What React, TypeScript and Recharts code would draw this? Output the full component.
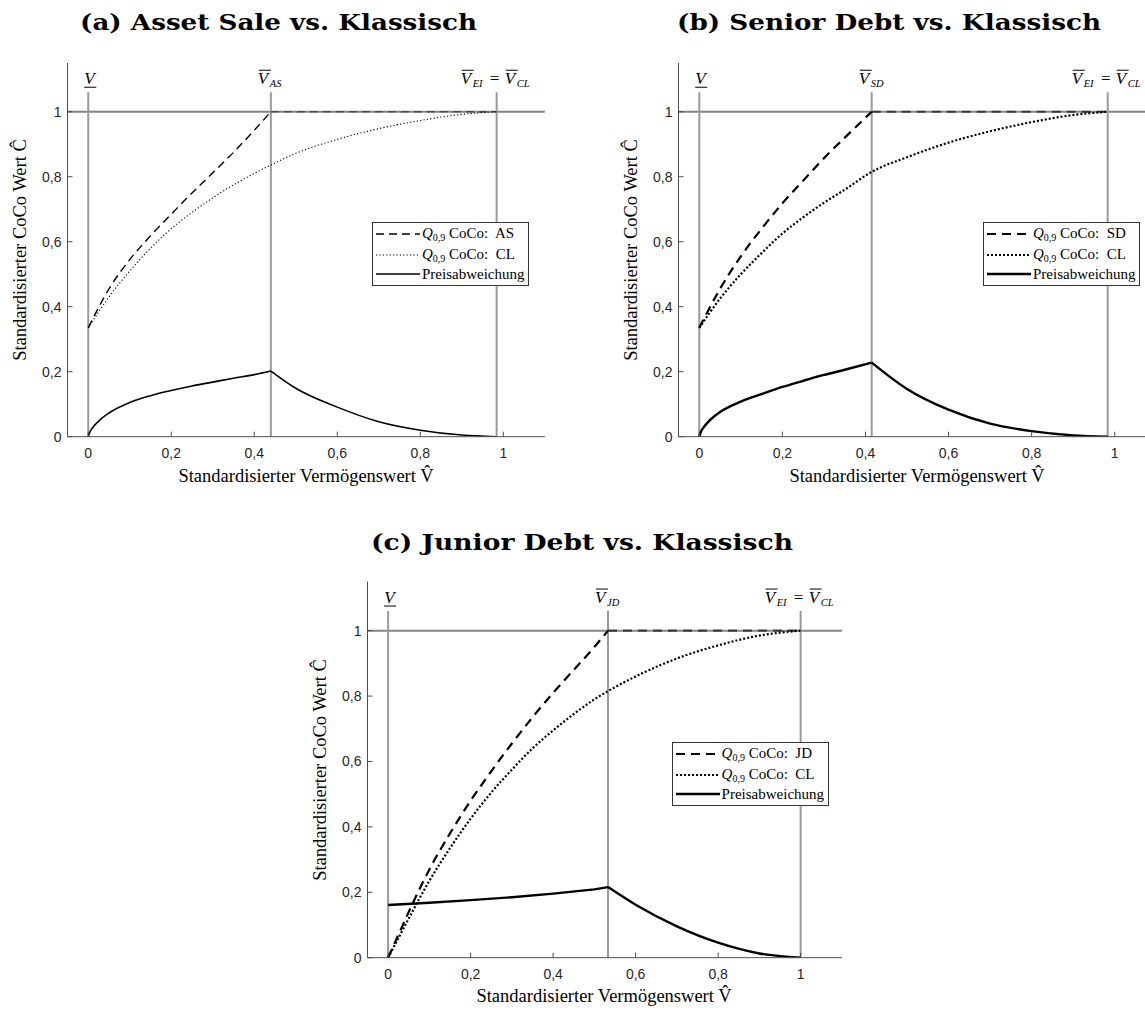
import React from "react";
import { LineChart, Line, XAxis, YAxis, ReferenceLine, Legend } from "recharts";

const SERIF = '"Liberation Serif", "Times New Roman", serif';
const TITLE_FONT = '"DejaVu Serif", serif';
const SANS = '"Liberation Sans", Arial, sans-serif';

const X_TICKS = [0, 0.2, 0.4, 0.6, 0.8, 1];
const Y_TICKS = [0, 0.2, 0.4, 0.6, 0.8, 1];
const X_DOMAIN: [number, number] = [-0.05, 1.1];
const Y_DOMAIN: [number, number] = [0, 1.15];

// (a) Asset Sale vs. classic
const aMarks = [0, 0.44, 0.984];
const aAsRiseX = [0, 0.05, 0.1, 0.15, 0.2, 0.25, 0.3, 0.35, 0.4, 0.44];
const aAsRiseY = [0.335, 0.455, 0.545, 0.618, 0.685, 0.75, 0.812, 0.875, 0.943, 1];
const aAsFlatX = [0.44, 0.984];
const aAsFlatY = [1, 1];
const aClX = [0, 0.05, 0.1, 0.15, 0.2, 0.25, 0.3, 0.35, 0.4, 0.44, 0.5, 0.6, 0.7, 0.8, 0.9, 0.984];
const aClY = [0.335, 0.43, 0.51, 0.58, 0.64, 0.69, 0.735, 0.775, 0.81, 0.836, 0.872, 0.915, 0.948, 0.973, 0.992, 1];
const aDiffLeftX = [0, 0.005, 0.01, 0.025, 0.05, 0.1, 0.15, 0.2, 0.25, 0.3, 0.35, 0.4, 0.44];
const aDiffLeftY = [0, 0.017, 0.027, 0.048, 0.073, 0.105, 0.126, 0.142, 0.156, 0.168, 0.18, 0.191, 0.202];
const aDiffRightX = [0.44, 0.5, 0.6, 0.7, 0.8, 0.9, 0.984];
const aDiffRightY = [0.202, 0.149, 0.091, 0.046, 0.02, 0.005, 0];

// (b) Senior Debt vs. classic
const bMarks = [0, 0.415, 0.983];
const bSdRiseX = [0, 0.05, 0.1, 0.15, 0.2, 0.25, 0.3, 0.35, 0.415];
const bSdRiseY = [0.335, 0.455, 0.555, 0.64, 0.718, 0.788, 0.857, 0.92, 1];
const bSdFlatX = [0.415, 0.983];
const bSdFlatY = [1, 1];
const bClX = [0, 0.05, 0.1, 0.15, 0.2, 0.25, 0.3, 0.35, 0.415, 0.5, 0.6, 0.7, 0.8, 0.9, 0.983];
const bClY = [0.335, 0.425, 0.5, 0.565, 0.625, 0.675, 0.72, 0.76, 0.815, 0.86, 0.905, 0.94, 0.968, 0.99, 1];
const bDiffLeftX = [0, 0.005, 0.01, 0.025, 0.05, 0.1, 0.15, 0.2, 0.25, 0.3, 0.35, 0.415];
const bDiffLeftY = [0, 0.018, 0.028, 0.05, 0.076, 0.108, 0.131, 0.153, 0.172, 0.19, 0.206, 0.228];
const bDiffRightX = [0.415, 0.5, 0.6, 0.7, 0.8, 0.9, 0.983];
const bDiffRightY = [0.228, 0.147, 0.083, 0.04, 0.017, 0.004, 0];

// (c) Junior Debt vs. classic
const cMarks = [0, 0.533, 1];
const cJdRiseX = [0, 0.025, 0.05, 0.1, 0.15, 0.2, 0.25, 0.3, 0.35, 0.4, 0.45, 0.5, 0.533];
const cJdRiseY = [0, 0.07, 0.14, 0.27, 0.38, 0.48, 0.57, 0.655, 0.735, 0.81, 0.88, 0.95, 1];
const cJdFlatX = [0.533, 1];
const cJdFlatY = [1, 1];
const cClX = [0, 0.025, 0.05, 0.1, 0.15, 0.2, 0.25, 0.3, 0.35, 0.4, 0.45, 0.5, 0.533, 0.6, 0.7, 0.8, 0.9, 1];
const cClY = [0, 0.06, 0.12, 0.235, 0.335, 0.425, 0.505, 0.575, 0.64, 0.695, 0.745, 0.79, 0.815, 0.86, 0.915, 0.955, 0.985, 1];
const cDiffLeftX = [0, 0.1, 0.2, 0.3, 0.4, 0.5, 0.533];
const cDiffLeftY = [0.161, 0.168, 0.176, 0.185, 0.196, 0.209, 0.216];
const cDiffRightX = [0.533, 0.6, 0.7, 0.8, 0.9, 1];
const cDiffRightY = [0.216, 0.162, 0.096, 0.046, 0.013, 0];

type Pt = { x: number; y: number };
const pts = (xs: number[], ys: number[]): Pt[] => xs.map((x, i) => ({ x, y: ys[i] }));

const fmt = (v: number) => String(v).replace(".", ",");

const AXIS = "#4d4d4d";
const GRAY_V = "#9a9a9a";
const GRAY_H = "#858585";

type Style = { width: number; dash?: string };
type Styles = { dashed: Style; dotted: Style; solid: Style; flatOpacity: number };

const THIN: Styles = {
  dashed: { width: 1.4, dash: "8 5" },
  dotted: { width: 1.1, dash: "1.2 2.2" },
  solid: { width: 1.6 },
  flatOpacity: 0.45,
};
const BOLD: Styles = {
  dashed: { width: 2.2, dash: "9 6" },
  dotted: { width: 2.2, dash: "2 2" },
  solid: { width: 2.4 },
  flatOpacity: 0.6,
};

function XTick(props: any) {
  const { x, y, payload } = props;
  return (
    <g>
      <line x1={x} x2={x} y1={y} y2={y - 5} stroke={AXIS} strokeWidth={1} />
      <text x={x} y={y + 21.5} textAnchor="middle" fontFamily={SANS} fontSize={14} fill="#262626">
        {fmt(payload.value)}
      </text>
    </g>
  );
}

function YTick(props: any) {
  const { x, y, payload } = props;
  return (
    <g>
      <line x1={x} x2={x + 5} y1={y} y2={y} stroke={AXIS} strokeWidth={1} />
      <text x={x - 6} y={y + 5} textAnchor="end" fontFamily={SANS} fontSize={14} fill="#262626">
        {fmt(payload.value)}
      </text>
    </g>
  );
}

// italic V with a bar above (or below) and an optional subscript
function VSym({ x, y, sub, under }: { x: number; y: number; sub?: string; under?: boolean }) {
  return (
    <g>
      <text x={x} y={y} fontFamily={SERIF} fontStyle="italic" fontSize={17} fill="#000">
        V
      </text>
      {under ? (
        <line x1={x} x2={x + 12} y1={y + 3} y2={y + 3} stroke="#000" strokeWidth={1} />
      ) : (
        <line x1={x + 1} x2={x + 13} y1={y - 14} y2={y - 14} stroke="#000" strokeWidth={1} />
      )}
      {sub && (
        <text x={x + 12} y={y + 3} fontFamily={SERIF} fontStyle="italic" fontSize={10.5} fill="#000">
          {sub}
        </text>
      )}
    </g>
  );
}

function topLabel(kind: string, sub?: string) {
  return (props: any) => {
    const vb = props.viewBox || {};
    const x = vb.x ?? 0;
    const y = (vb.y ?? 0) - 8;
    if (kind === "low") return <VSym x={x - 4} y={y} under />;
    if (kind === "mid") return <VSym x={x - 13} y={y} sub={sub} />;
    return (
      <g>
        <VSym x={x - 36} y={y} sub="EI" />
        <text x={x - 2} y={y} textAnchor="middle" fontFamily={SERIF} fontSize={17} fill="#000">
          =
        </text>
        <VSym x={x + 8} y={y} sub="CL" />
      </g>
    );
  };
}

function LegendBox({ items, styles }: { items: string[]; styles: Styles }) {
  const st = [styles.dashed, styles.dotted, styles.solid];
  return (
    <div
      style={{
        border: "1px solid #333",
        background: "#fff",
        padding: "1px 4px 1px 3px",
        fontFamily: SERIF,
        fontSize: 15,
        lineHeight: "18.5px",
        color: "#000",
      }}
    >
      {items.map((label, i) => (
        <div key={label} style={{ display: "flex", alignItems: "center", whiteSpace: "nowrap" }}>
          <svg width={44} height={10} style={{ display: "block" }}>
            <line x1={0} x2={44} y1={5} y2={5} stroke="#000" strokeWidth={st[i].width} strokeDasharray={st[i].dash} />
          </svg>
          <span style={{ marginLeft: 2 }}>
            {i < 2 ? (
              <>
                <i>Q</i>
                <span style={{ fontSize: 10, position: "relative", top: 3 }}>0,9</span>
                {" CoCo:\u00a0 " + label}
              </>
            ) : (
              label
            )}
          </span>
        </div>
      ))}
    </div>
  );
}

type PanelProps = {
  left: number;
  top: number;
  width: number;
  height: number;
  margin: { top: number; right: number; bottom: number; left: number };
  marks: number[];
  midSub: string;
  rise: Pt[];
  flat: Pt[];
  cl: Pt[];
  diffLeft: Pt[];
  diffRight: Pt[];
  name: string;
  styles: Styles;
  leftType?: "monotone" | "linear";
};

// axis boxes: y axis is 60 wide, x axis is 30 high
function Panel(p: PanelProps) {
  const s = p.styles;
  return (
    <div style={{ position: "absolute", left: p.left, top: p.top }}>
      <LineChart width={p.width} height={p.height} margin={p.margin}>
        <XAxis
          type="number"
          dataKey="x"
          domain={X_DOMAIN}
          ticks={X_TICKS}
          allowDataOverflow
          height={30}
          tickSize={0}
          tickMargin={0}
          tickLine={false}
          axisLine={{ stroke: AXIS, strokeWidth: 1 }}
          tick={(t: any) => <XTick {...t} />}
        />
        <YAxis
          type="number"
          dataKey="y"
          domain={Y_DOMAIN}
          ticks={Y_TICKS}
          allowDataOverflow
          width={60}
          tickSize={0}
          tickMargin={0}
          tickLine={false}
          axisLine={{ stroke: AXIS, strokeWidth: 1 }}
          tick={(t: any) => <YTick {...t} />}
        />
        <ReferenceLine y={1} stroke={GRAY_H} strokeWidth={2} />
        {p.marks.map((m, i) => (
          <ReferenceLine
            key={m}
            segment={[
              { x: m, y: 0 },
              { x: m, y: 1.06 },
            ]}
            stroke={GRAY_V}
            strokeWidth={2}
            label={topLabel(i === 0 ? "low" : i === 1 ? "mid" : "top", p.midSub)}
          />
        ))}
        <Line data={p.flat} dataKey="y" type="linear" stroke="#000" strokeWidth={s.dashed.width} strokeDasharray={s.dashed.dash} strokeOpacity={s.flatOpacity} dot={false} isAnimationActive={false} />
        <Line data={p.rise} dataKey="y" type="monotone" stroke="#000" strokeWidth={s.dashed.width} strokeDasharray={s.dashed.dash} dot={false} isAnimationActive={false} />
        <Line data={p.cl} dataKey="y" type="monotone" stroke="#000" strokeWidth={s.dotted.width} strokeDasharray={s.dotted.dash} dot={false} isAnimationActive={false} />
        <Line data={p.diffLeft} dataKey="y" type={p.leftType ?? "monotone"} stroke="#000" strokeWidth={s.solid.width} dot={false} isAnimationActive={false} />
        <Line data={p.diffRight} dataKey="y" type="monotone" stroke="#000" strokeWidth={s.solid.width} dot={false} isAnimationActive={false} />
        <Legend
          layout="vertical"
          align="center"
          verticalAlign="middle"
          wrapperStyle={{ left: 372, top: 222, width: "auto", height: "auto" }}
          content={() => <LegendBox items={[p.name, "CL", "Preisabweichung"]} styles={s} />}
        />
      </LineChart>
    </div>
  );
}

const TEXT = "#000";

export default function App() {
  const yLabel = "Standardisierter CoCo Wert \u0108";
  const xLabel = "Standardisierter Vermögenswert V\u0302";
  return (
    <div
      style={{
        position: "absolute",
        left: 0,
        top: 0,
        width: 1145,
        height: 1010,
        overflow: "hidden",
        background: "#fff",
      }}
    >
      <Panel
        left={0}
        top={0}
        width={560}
        height={490}
        margin={{ top: 63, right: 15.2, bottom: 23.3, left: 7.5 }}
        marks={aMarks}
        midSub="AS"
        rise={pts(aAsRiseX, aAsRiseY)}
        flat={pts(aAsFlatX, aAsFlatY)}
        cl={pts(aClX, aClY)}
        diffLeft={pts(aDiffLeftX, aDiffLeftY)}
        diffRight={pts(aDiffRightX, aDiffRightY)}
        name="AS"
        styles={THIN}
      />
      <Panel
        left={611}
        top={0}
        width={560}
        height={490}
        margin={{ top: 63, right: 14.7, bottom: 23.3, left: 7.5 }}
        marks={bMarks}
        midSub="SD"
        rise={pts(bSdRiseX, bSdRiseY)}
        flat={pts(bSdFlatX, bSdFlatY)}
        cl={pts(bClX, bClY)}
        diffLeft={pts(bDiffLeftX, bDiffLeftY)}
        diffRight={pts(bDiffRightX, bDiffRightY)}
        name="SD"
        styles={BOLD}
      />
      <Panel
        left={299.6}
        top={520}
        width={560}
        height={470}
        margin={{ top: 61.6, right: 18.1, bottom: 2.3, left: 7.5 }}
        marks={cMarks}
        midSub="JD"
        rise={pts(cJdRiseX, cJdRiseY)}
        flat={pts(cJdFlatX, cJdFlatY)}
        cl={pts(cClX, cClY)}
        diffLeft={pts(cDiffLeftX, cDiffLeftY)}
        diffRight={pts(cDiffRightX, cDiffRightY)}
        name="JD"
        styles={BOLD}
        leftType="linear"
      />
      <svg width={1145} height={1010} style={{ position: "absolute", left: 0, top: 0, pointerEvents: "none" }}>
        <g fill={TEXT}>
          <g fontFamily={TITLE_FONT} fontSize={23} fontWeight="bold">
            <text x={278.5} y={30} textAnchor="middle" textLength={397} lengthAdjust="spacingAndGlyphs">
              (a) Asset Sale vs. Klassisch
            </text>
            <text x={889} y={30} textAnchor="middle" textLength={424} lengthAdjust="spacingAndGlyphs">
              (b) Senior Debt vs. Klassisch
            </text>
            <text x={582} y={550} textAnchor="middle" textLength={422} lengthAdjust="spacingAndGlyphs">
              (c) Junior Debt vs. Klassisch
            </text>
          </g>
          <g fontFamily={SERIF} fontSize={18.5}>
            <text x={306} y={482} textAnchor="middle">
              {xLabel}
            </text>
            <text x={917} y={482} textAnchor="middle">
              {xLabel}
            </text>
            <text x={604} y={1002} textAnchor="middle">
              {xLabel}
            </text>
            <text transform="translate(26,250) rotate(-90)" textAnchor="middle">
              {yLabel}
            </text>
            <text transform="translate(637,250) rotate(-90)" textAnchor="middle">
              {yLabel}
            </text>
            <text transform="translate(326,770) rotate(-90)" textAnchor="middle">
              {yLabel}
            </text>
          </g>
        </g>
      </svg>
    </div>
  );
}
